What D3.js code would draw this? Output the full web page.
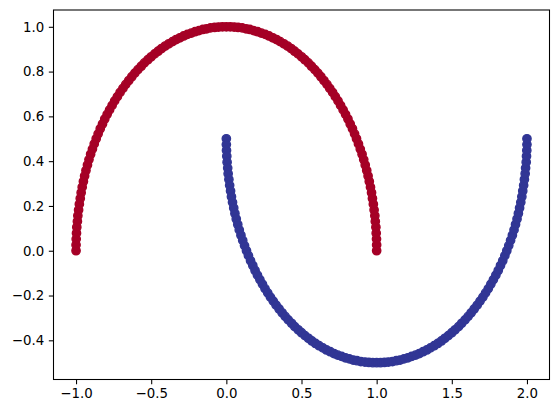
<!DOCTYPE html>
<html><head><meta charset="utf-8">
<script src="https://cdn.jsdelivr.net/npm/d3@7"></script>
<style>body{margin:0;background:#fff}svg{display:block}text{font-family:"DejaVu Sans",sans-serif}</style>
</head><body><svg id="c" width="559" height="413"></svg>
<script>
const outerX=[1.000,1.000,0.999,0.997,0.995,0.991,0.988,0.983,0.978,0.972,0.966,0.959,0.951,0.943,0.934,0.924,0.914,0.903,0.891,0.879,0.866,0.853,0.839,0.824,0.809,0.793,0.777,0.760,0.743,0.725,0.707,0.688,0.669,0.649,0.629,0.609,0.588,0.566,0.545,0.522,0.500,0.477,0.454,0.431,0.407,0.383,0.358,0.334,0.309,0.284,0.259,0.233,0.208,0.182,0.156,0.131,0.105,0.078,0.052,0.026,0.000,
-0.026,-0.052,-0.078,-0.105,-0.131,-0.156,-0.182,-0.208,-0.233,-0.259,-0.284,-0.309,-0.334,-0.358,-0.383,-0.407,-0.431,-0.454,-0.477,-0.500,-0.522,-0.545,-0.566,-0.588,-0.609,-0.629,-0.649,-0.669,-0.688,-0.707,-0.725,-0.743,-0.760,-0.777,-0.793,-0.809,-0.824,-0.839,-0.853,-0.866,-0.879,-0.891,-0.903,-0.914,-0.924,-0.934,-0.943,-0.951,-0.959,-0.966,-0.972,-0.978,-0.983,-0.988,-0.991,-0.995,-0.997,-0.999,-1.000,-1.000];
const outerY=[0.000,0.026,0.052,0.078,0.105,0.131,0.156,0.182,0.208,0.233,0.259,0.284,0.309,0.334,0.358,0.383,0.407,0.431,0.454,0.477,0.500,0.522,0.545,0.566,0.588,0.609,0.629,0.649,0.669,0.688,0.707,0.725,0.743,0.760,0.777,0.793,0.809,0.824,0.839,0.853,0.866,0.879,0.891,0.903,0.914,0.924,0.934,0.943,0.951,0.959,0.966,0.972,0.978,0.983,0.988,0.991,0.995,0.997,0.999,1.000,1.000,
1.000,0.999,0.997,0.995,0.991,0.988,0.983,0.978,0.972,0.966,0.959,0.951,0.943,0.934,0.924,0.914,0.903,0.891,0.879,0.866,0.853,0.839,0.824,0.809,0.793,0.777,0.760,0.743,0.725,0.707,0.688,0.669,0.649,0.629,0.609,0.588,0.566,0.545,0.522,0.500,0.477,0.454,0.431,0.407,0.383,0.358,0.334,0.309,0.284,0.259,0.233,0.208,0.182,0.156,0.131,0.105,0.078,0.052,0.026,0.000];
const innerX=[0.000,0.000,0.001,0.003,0.005,0.009,0.012,0.017,0.022,0.028,0.034,0.041,0.049,0.057,0.066,0.076,0.086,0.097,0.109,0.121,0.134,0.147,0.161,0.176,0.191,0.207,0.223,0.240,0.257,0.275,0.293,0.312,0.331,0.351,0.371,0.391,0.412,0.434,0.455,0.478,0.500,0.523,0.546,0.569,0.593,0.617,0.642,0.666,0.691,0.716,0.741,0.767,0.792,0.818,0.844,0.869,0.895,0.922,0.948,0.974,1.000,
1.026,1.052,1.078,1.105,1.131,1.156,1.182,1.208,1.233,1.259,1.284,1.309,1.334,1.358,1.383,1.407,1.431,1.454,1.477,1.500,1.522,1.545,1.566,1.588,1.609,1.629,1.649,1.669,1.688,1.707,1.725,1.743,1.760,1.777,1.793,1.809,1.824,1.839,1.853,1.866,1.879,1.891,1.903,1.914,1.924,1.934,1.943,1.951,1.959,1.966,1.972,1.978,1.983,1.988,1.991,1.995,1.997,1.999,2.000,2.000];
const innerY=[0.500,0.474,0.448,0.422,0.395,0.369,0.344,0.318,0.292,0.267,0.241,0.216,0.191,0.166,0.142,0.117,0.093,0.069,0.046,0.023,0.000,-0.022,-0.045,-0.066,-0.088,-0.109,-0.129,-0.149,-0.169,-0.188,-0.207,-0.225,-0.243,-0.260,-0.277,-0.293,-0.309,-0.324,-0.339,-0.353,-0.366,-0.379,-0.391,-0.403,-0.414,-0.424,-0.434,-0.443,-0.451,-0.459,-0.466,-0.472,-0.478,-0.483,-0.488,-0.491,-0.495,-0.497,-0.499,-0.500,-0.500,
-0.500,-0.499,-0.497,-0.495,-0.491,-0.488,-0.483,-0.478,-0.472,-0.466,-0.459,-0.451,-0.443,-0.434,-0.424,-0.414,-0.403,-0.391,-0.379,-0.366,-0.353,-0.339,-0.324,-0.309,-0.293,-0.277,-0.260,-0.243,-0.225,-0.207,-0.188,-0.169,-0.149,-0.129,-0.109,-0.088,-0.066,-0.045,-0.022,0.000,0.023,0.046,0.069,0.093,0.117,0.142,0.166,0.191,0.216,0.241,0.267,0.292,0.318,0.344,0.369,0.395,0.422,0.448,0.474,0.500];
const xTicks=[-1.0,-0.5,0.0,0.5,1.0,1.5,2.0];
const yTicks=[-0.4,-0.2,0.0,0.2,0.4,0.6,0.8,1.0];
const classColors=["#a50026","#313695"];

const L=53.5,R=549.5,T=10,B=379.5;
const svg=d3.select("#c");
const x=d3.scaleLinear().domain([-1.15,2.15]).range([L,R]);
const y=d3.scaleLinear().domain([-0.575,1.075]).range([B,T]);
const fmt=v=>d3.format(".1f")(v).replace("-","\u2212");

const outer=outerX.map((v,i)=>({x:v,y:outerY[i],c:0}));
const inner=innerX.map((v,i)=>({x:v,y:innerY[i],c:1}));
const pts=outer.concat(inner);

svg.append("g").selectAll("circle").data(pts).join("circle")
  .attr("cx",d=>x(d.x)).attr("cy",d=>y(d.y)).attr("r",4.17)
  .attr("fill",d=>classColors[d.c]).attr("stroke",d=>classColors[d.c]).attr("stroke-width",1.39);

const gx=svg.append("g").attr("transform",`translate(0,${B})`)
  .call(d3.axisBottom(x).tickValues(xTicks).tickFormat(fmt).tickSize(4.67).tickSizeOuter(0).tickPadding(4.7));
const gy=svg.append("g").attr("transform",`translate(${L},0)`)
  .call(d3.axisLeft(y).tickValues(yTicks).tickFormat(fmt).tickSize(4.67).tickSizeOuter(0).tickPadding(4.7));
[gx,gy].forEach(g=>{
  g.select(".domain").remove();
  g.selectAll("line").attr("stroke","#000").attr("stroke-width",1.07);
  g.selectAll("text").attr("fill","#000").style("font-size","13.33px").style("font-family","'DejaVu Sans',sans-serif");
});
svg.append("rect").attr("x",L).attr("y",T).attr("width",R-L).attr("height",B-T)
  .attr("fill","none").attr("stroke","#000").attr("stroke-width",1.07);
</script></body></html>
